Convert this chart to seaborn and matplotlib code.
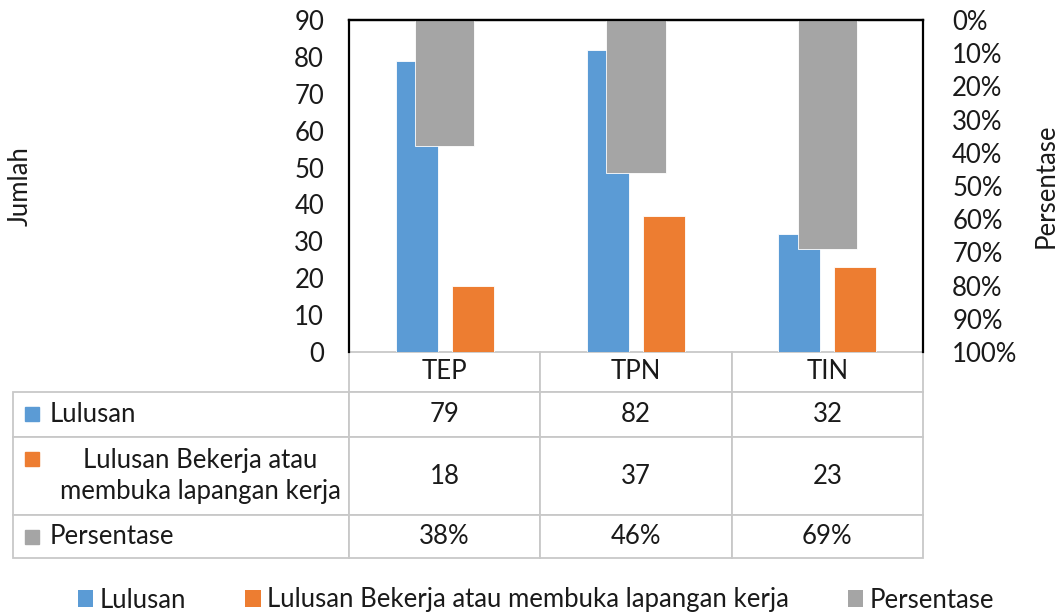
import matplotlib
matplotlib.use('Agg')
import matplotlib.pyplot as plt
from matplotlib.patches import Patch
from matplotlib.ticker import PercentFormatter
import seaborn as sns
import pandas as pd

# ---- data ----
categories = ['TEP', 'TPN', 'TIN']
lulusan = [79, 82, 32]
bekerja = [18, 37, 23]
persentase = [0.38, 0.46, 0.69]
series_names = ['Lulusan', 'Lulusan Bekerja atau membuka lapangan kerja', 'Persentase']
table_labels = ['Lulusan', 'Lulusan Bekerja atau\nmembuka lapangan kerja', 'Persentase']
left_ticks = [0, 10, 20, 30, 40, 50, 60, 70, 80, 90]
right_ticks = [0.0, 0.1, 0.2, 0.3, 0.4, 0.5, 0.6, 0.7, 0.8, 0.9, 1.0]

BLUE, ORANGE, GREY = '#5B9BD5', '#ED7D31', '#A5A5A5'
TXT = '#1a1a1a'
GRID = '#C8C8C8'

sns.set_theme(style='white')
plt.rcParams['font.family'] = ['Lato', 'DejaVu Sans']
FS = 18.5

W, H = 1062, 615
fig = plt.figure(figsize=(W / 100, H / 100), dpi=100)
L, R, T, B = 349, 923, 20, 352
AW, AH = R - L, B - T
ax = fig.add_axes([L / W, 1 - B / H, AW / W, AH / H])

df = pd.DataFrame({
    'cat': categories * 2,
    'series': [series_names[0]] * 3 + [series_names[1]] * 3,
    'val': lulusan + bekerja,
})
sns.barplot(data=df, x='cat', y='val', hue='series', order=categories,
            hue_order=series_names[:2], palette=[BLUE, ORANGE], width=0.584,
            gap=0.247, saturation=1, errorbar=None, legend=False, ax=ax,
            edgecolor='white', linewidth=0.6)

ax2 = ax.twinx()
df2 = pd.DataFrame({'cat': categories, 'val': persentase})
sns.barplot(data=df2, x='cat', y='val', order=categories, color=GREY,
            width=0.31, saturation=1, errorbar=None, ax=ax2,
            edgecolor='white', linewidth=0.6)

ax.set_xlim(-0.5, 2.5)
ax2.set_xlim(-0.5, 2.5)
ax.set_ylim(0, 90)
ax2.set_ylim(1, 0)

ax.set_yticks(left_ticks)
ax2.set_yticks(right_ticks)
ax2.yaxis.set_major_formatter(PercentFormatter(xmax=1, decimals=0))
ax.tick_params(axis='y', length=0, pad=18, labelsize=FS, labelcolor=TXT)
ax2.tick_params(axis='y', length=0, pad=21, labelsize=FS, labelcolor=TXT)
for a in (ax, ax2):
    a.set_xticks([])
    a.set_xlabel('')
    a.grid(False)

ax.set_ylabel('Jumlah', fontsize=FS, color=TXT)
ax.yaxis.set_label_coords((33 - L) / AW, 0.5)
ax2.set_ylabel('Persentase', fontsize=FS, color=TXT)
ax2.yaxis.set_label_coords((1034 - L) / AW, 0.5)

for a in (ax, ax2):
    for s in ('left', 'right', 'top'):
        a.spines[s].set_color('black')
        a.spines[s].set_linewidth(1.6)
    a.spines['bottom'].set_visible(False)
ax.spines['right'].set_visible(False)
ax2.spines['left'].set_visible(False)

# ---- data table ----
cell_rows = [
    [table_labels[0]] + [str(v) for v in lulusan],
    [table_labels[1]] + [str(v) for v in bekerja],
    [table_labels[2]] + [f'{round(p * 100)}%' for p in persentase],
]
TL = 13
col_w = [L - TL] + [AW / 3] * 3
row_h = [40, 45, 78, 43]
tot_h = sum(row_h)
tbl = ax.table(cellText=cell_rows, colLabels=[''] + categories, cellLoc='center',
               colWidths=[w / AW for w in col_w],
               bbox=[(TL - L) / AW, -tot_h / AH, (R - TL) / AW, tot_h / AH])
tbl.auto_set_font_size(False)
for (r, c), cell in tbl.get_celld().items():
    cell.set_height(row_h[r] / AH)
    cell.set_edgecolor(GRID)
    cell.set_linewidth(1.3)
    cell.get_text().set_fontsize(FS)
    cell.get_text().set_color(TXT)
    if r == 0 and c == 0:
        cell.visible_edges = ''
    if c == 0 and r in (1, 3):
        cell.get_text().set_horizontalalignment('left')
        cell.PAD = 37 / (L - TL)
    if c == 0 and r == 2:
        cell.get_text().set_horizontalalignment('right')
        cell.get_text().set_multialignment('center')
        cell.get_text().set_linespacing(1.3)
        cell.PAD = 8 / (L - TL)

# colour keys in the table row labels
for col, py in zip([BLUE, ORANGE, GREY], [414, 459, 537]):
    ax.plot([(31.5 - L) / AW], [(B - py) / AH], marker='s', markersize=9.5,
            color=col, transform=ax.transAxes, clip_on=False, linestyle='none')

# ---- legend ----
handles = [Patch(facecolor=c, edgecolor='none') for c in (BLUE, ORANGE, GREY)]
fig.legend(handles, series_names, loc='center', ncol=3, frameon=False,
           bbox_to_anchor=(536 / W, 1 - 600 / H), fontsize=FS,
           handlelength=0.6, handleheight=0.6, handletextpad=0.25,
           columnspacing=2.3, labelcolor=TXT)

fig.savefig('out.png', dpi=100)
